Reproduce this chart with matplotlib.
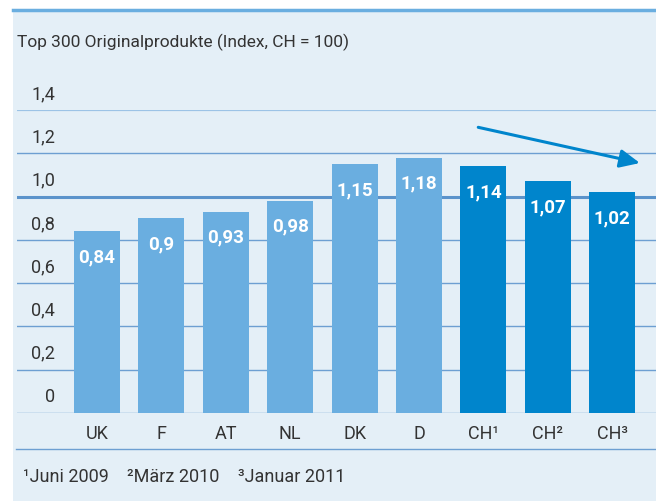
import matplotlib
matplotlib.use('Agg')
import matplotlib.pyplot as plt
from matplotlib.patches import Rectangle
from matplotlib.lines import Line2D

# Daten
laender = ['UK', 'F', 'AT', 'NL', 'DK', 'D', 'CH¹', 'CH²', 'CH³']
werte = [0.84, 0.90, 0.93, 0.98, 1.15, 1.18, 1.14, 1.07, 1.02]
wert_labels = ['0,84', '0,9', '0,93', '0,98', '1,15', '1,18', '1,14', '1,07', '1,02']
ist_ch = [False, False, False, False, False, False, True, True, True]
y_ticks = [0, 0.2, 0.4, 0.6, 0.8, 1.0, 1.2, 1.4]
y_tick_labels = ['0', '0,2', '0,4', '0,6', '0,8', '1,0', '1,2', '1,4']
fussnoten = ['¹Juni 2009', '²März 2010', '³Januar 2011']

hell = '#6aaee0'
dunkel = '#0085cc'
hintergrund = '#e4eff7'
gitter = '#6d9fd2'
text_farbe = '#333333'

plt.rcParams['font.family'] = ['Roboto', 'DejaVu Sans']

W, H = 656, 501
fig = plt.figure(figsize=(W / 100, H / 100), dpi=100)
fig.patch.set_facecolor('white')

# Hintergrund-Panel mit blauer Oberkante
fig.add_artist(Rectangle((13 / W, 0), 1 - 13 / W, (H - 9) / H, transform=fig.transFigure,
                         facecolor=hintergrund, edgecolor='none', zorder=0))
fig.add_artist(Line2D([13 / W, 1], [(H - 9.5) / H] * 2, transform=fig.transFigure,
                      color=hell, linewidth=2.5, zorder=1))
# Linie unter den Laenderlabels
fig.add_artist(Line2D([16 / W, 1], [(H - 449) / H] * 2, transform=fig.transFigure,
                      color=gitter, linewidth=1.0, zorder=1))

ax = fig.add_axes([17 / W, (H - 413) / H, 1 - 17 / W, (413 - 110) / H])
ax.set_facecolor('none')
for s in ax.spines.values():
    s.set_visible(False)

x = list(range(len(laender)))
farben = [dunkel if c else hell for c in ist_ch]
ax.bar(x, werte, width=0.715, color=farben, zorder=3)

# Gitterlinien
for v in y_ticks:
    if v == 1.0:
        ax.axhline(v, color='#5b93cb', linewidth=2.2, zorder=1)
    elif v == 1.4:
        ax.axhline(v, color='#9cc3e6', linewidth=1.6, zorder=1)
    else:
        ax.axhline(v, color=gitter, linewidth=1.0, zorder=1)

ax.set_xlim(-1.242, 8.68)
ax.set_ylim(0, 1.4)
ax.set_xticks([])
ax.set_yticks([])

# Y-Achsenbeschriftung (ueber den Gitterlinien)
for v, lab in zip(y_ticks, y_tick_labels):
    ax.annotate(lab, xy=(55, v), xycoords=('figure pixels', 'data'),
                xytext=(0, 5), textcoords='offset points',
                ha='right', va='bottom', fontsize=13, color=text_farbe)

# Werte in den Balken
for xi, v, lab in zip(x, werte, wert_labels):
    ax.text(xi, v - 0.12, lab, ha='center', va='center', color='white',
            fontsize=13.5, fontweight='bold', zorder=4)

# Laenderlabels
for xi, lab in zip(x, laender):
    ax.annotate(lab, xy=(xi, 0), xycoords='data', xytext=(0, -15),
                textcoords='offset points', ha='center', va='center',
                fontsize=13, color=text_farbe, annotation_clip=False)

# Trendpfeil
ax.annotate('', xy=(8.43, 1.155), xytext=(5.92, 1.32),
            arrowprops=dict(arrowstyle='-|>,head_length=1.2,head_width=0.55',
                            color=dunkel, linewidth=2.2, shrinkA=0, shrinkB=0),
            annotation_clip=False, zorder=5)

# Titel
fig.text(17 / W, 1 - 42 / H, 'Top 300 Originalprodukte (Index, CH = 100)',
         ha='left', va='center', fontsize=12.5, color=text_farbe)

# Fussnoten
for xp, t in zip([23, 127, 238], fussnoten):
    fig.text(xp / W, 1 - 477 / H, t, ha='left', va='center', fontsize=13, color=text_farbe)

plt.savefig('out.png', dpi=100, facecolor='white')
